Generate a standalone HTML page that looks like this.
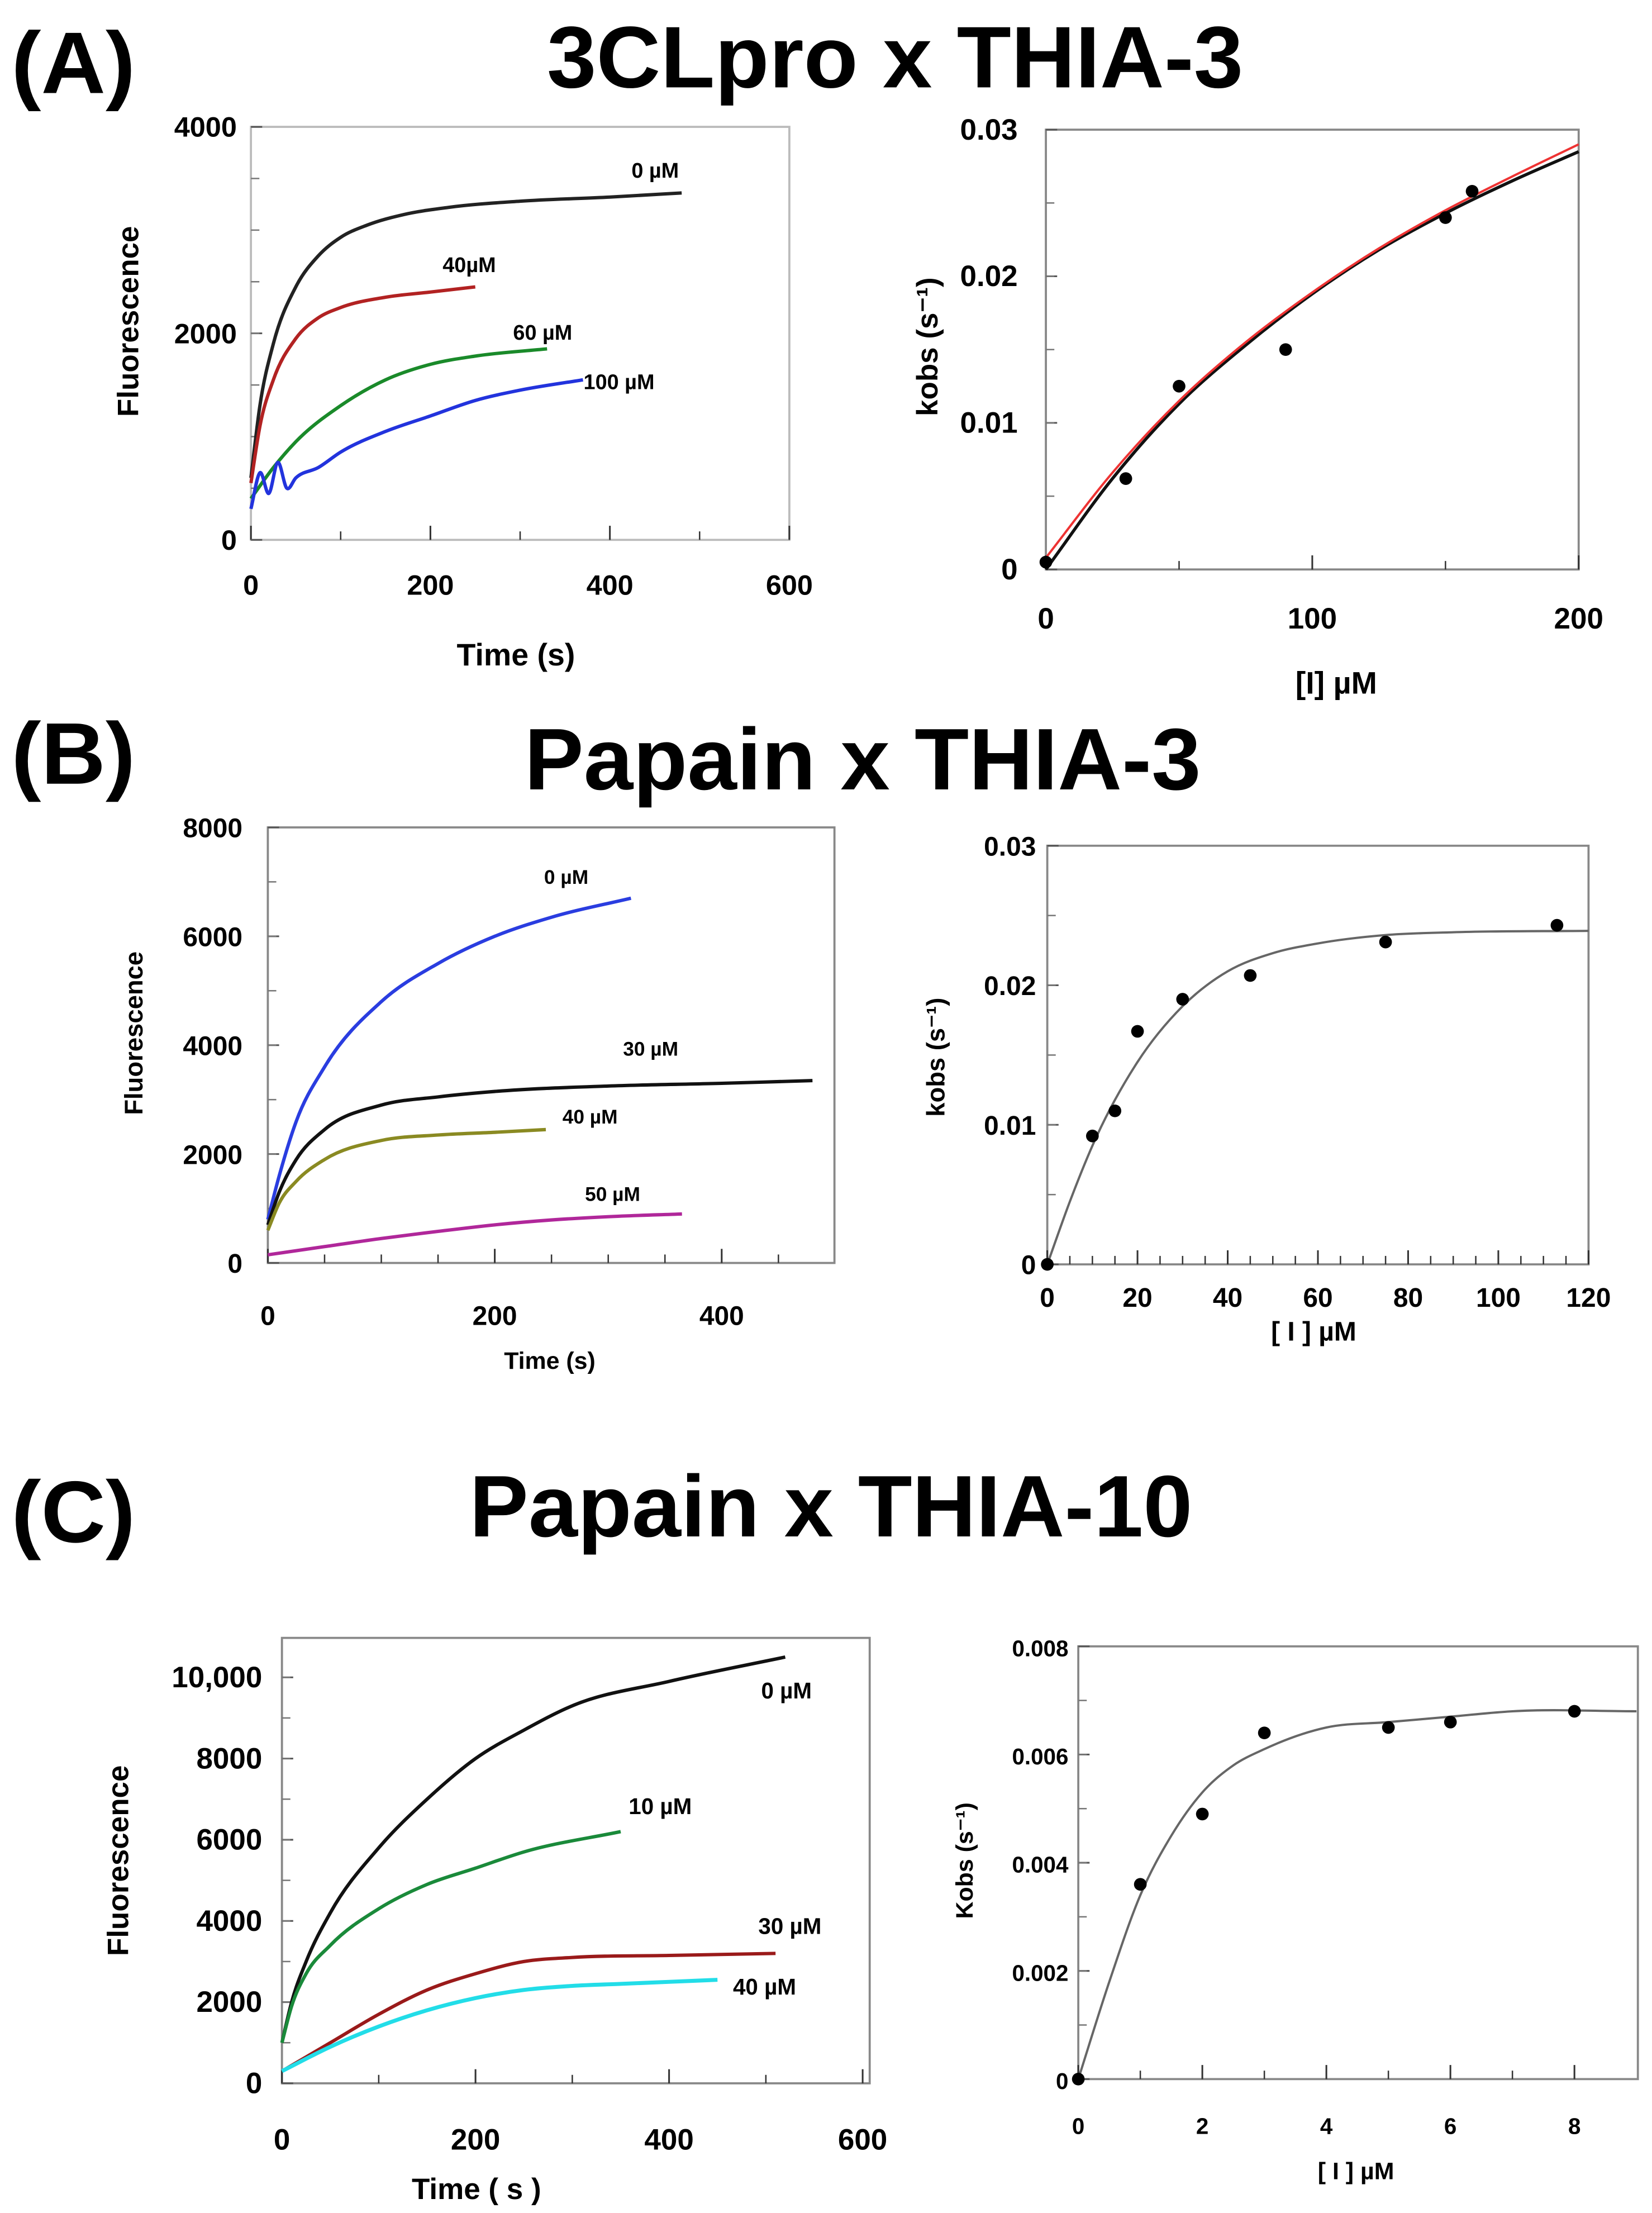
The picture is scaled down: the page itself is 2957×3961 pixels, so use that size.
<!DOCTYPE html>
<html><head><meta charset="utf-8">
<style>
html,body{margin:0;padding:0;background:#fff;}
svg{display:block;}
text{font-family:"Liberation Sans",sans-serif;}
</style></head>
<body>
<svg id="fig" xmlns="http://www.w3.org/2000/svg" width="2957" height="3961" viewBox="0 0 1172 1570">
<rect x="0" y="0" width="1172" height="1570" fill="#fff"/>
<text x="8" y="66" font-size="62" font-weight="bold" textLength="88" lengthAdjust="spacingAndGlyphs">(A)</text>
<text x="388" y="62" font-size="62" font-weight="bold" textLength="494" lengthAdjust="spacingAndGlyphs">3CLpro x THIA-3</text>
<text x="8" y="556" font-size="62" font-weight="bold" textLength="88" lengthAdjust="spacingAndGlyphs">(B)</text>
<text x="372" y="560" font-size="62" font-weight="bold" textLength="480" lengthAdjust="spacingAndGlyphs">Papain x THIA-3</text>
<text x="8" y="1094" font-size="62" font-weight="bold" textLength="88" lengthAdjust="spacingAndGlyphs">(C)</text>
<text x="333" y="1090" font-size="62" font-weight="bold" textLength="513" lengthAdjust="spacingAndGlyphs">Papain x THIA-10</text>
</svg>
<script>
// ---------- Panel A left ----------
const aLeftTicksX=[0,200,400,600];
const aLeftTicksY=[0,2000,4000];
const a0T=[0,10,25,50,75,100,130,170,220,300,400,480];
const a0F=[600,1300,1900,2450,2750,2930,3050,3150,3220,3280,3320,3360];
const a40T=[0,10,25,50,75,100,150,200,250];
const a40F=[550,1100,1550,1950,2150,2250,2350,2400,2450];
const a60T=[0,25,50,100,150,200,250,330];
const a60F=[400,700,950,1300,1550,1700,1780,1850];
const a100T=[0,10,20,30,40,50,75,100,150,200,250,300,370];
const a100F=[300,650,450,750,500,600,700,850,1050,1200,1350,1450,1550];
// ---------- Panel A right ----------
const aRightTicksX=[0,100,200];
const aRightTicksY=[0,0.01,0.02,0.03];
const aPtsX=[0,30,50,90,150,160];
const aPtsY=[0.0005,0.0062,0.0125,0.015,0.024,0.0258];
const aFitX=[0,25,50,75,100,125,150,175,200];
const aFitBlack=[0,0.0062,0.0113,0.0153,0.0188,0.0218,0.0243,0.0265,0.0285];
const aFitRed=[0.0008,0.0066,0.0115,0.0155,0.0189,0.0219,0.0245,0.0268,0.029];
// ---------- Panel B left ----------
const bLeftTicksX=[0,200,400];
const bLeftTicksY=[0,2000,4000,6000,8000];
const b0T=[0,10,25,50,100,150,200,250,320];
const b0F=[800,1600,2600,3600,4800,5500,6000,6350,6700];
const b30T=[0,10,25,50,100,150,200,300,400,480];
const b30F=[700,1300,1900,2450,2900,3050,3150,3250,3300,3350];
const b40T=[0,10,25,50,100,150,200,245];
const b40F=[600,1100,1500,1900,2250,2350,2400,2450];
const b50T=[0,50,100,150,200,250,300,365];
const b50F=[150,300,450,580,700,790,850,900];
// ---------- Panel B right ----------
const bRightTicksX=[0,20,40,60,80,100,120];
const bRightTicksY=[0,0.01,0.02,0.03];
const bPtsX=[0,10,15,20,30,45,75,113];
const bPtsY=[0,0.0092,0.011,0.0167,0.019,0.0207,0.0231,0.0243];
const bFitX=[0,5,10,20,30,40,50,60,75,90,120];
const bFitY=[0,0.0045,0.0085,0.0145,0.0185,0.021,0.0223,0.023,0.0236,0.0238,0.0239];
// ---------- Panel C left ----------
const cLeftTicksX=[0,200,400,600];
const cLeftTicksY=[0,2000,4000,6000,8000,10000];
const cLeftTickLabels=["0","2000","4000","6000","8000","10,000"];
const c0T=[0,10,25,50,100,150,200,250,300,400,520];
const c0F=[1000,2000,3000,4200,5800,7000,8000,8700,9300,9900,10500];
const c10T=[0,10,25,50,100,150,200,250,350];
const c10F=[1000,1900,2700,3400,4300,4900,5300,5700,6200];
const c30T=[0,50,100,150,200,250,300,400,510];
const c30F=[300,1000,1700,2300,2700,3000,3100,3150,3200];
const c40T=[0,50,100,150,200,250,300,350,400,450];
const c40F=[300,900,1400,1800,2100,2300,2400,2450,2500,2550];
// ---------- Panel C right ----------
const cRightTicksX=[0,2,4,6,8];
const cRightTicksY=[0,0.002,0.004,0.006,0.008];
const cPtsX=[0,1,2,3,5,6,8];
const cPtsY=[0,0.0036,0.0049,0.0064,0.0065,0.0066,0.0068];
const cFitX=[0,0.5,1,1.5,2,2.5,3,4,5,6,7,9];
const cFitY=[0,0.0018,0.0034,0.0045,0.0053,0.0058,0.0061,0.0065,0.0066,0.0067,0.0068,0.0068];

const NS="http://www.w3.org/2000/svg";
const svg=document.getElementById('fig');
function el(tag,attrs){const e=document.createElementNS(NS,tag);for(const k in attrs)e.setAttribute(k,attrs[k]);svg.appendChild(e);return e;}
function scale(d0,d1,p0,p1){return v=>p0+(v-d0)/(d1-d0)*(p1-p0);}
// cubic Hermite with tangents from weighted neighbouring slopes (handles uneven spacing)
function smooth(pts){
  const n=pts.length;
  const dx=[],s=[];
  for(let i=0;i<n-1;i++){dx.push(pts[i+1][0]-pts[i][0]);s.push((pts[i+1][1]-pts[i][1])/dx[i]);}
  const m=[];
  for(let i=0;i<n;i++){
    if(i===0)m.push(s[0]);
    else if(i===n-1)m.push(s[n-2]);
    else m.push((s[i-1]*dx[i]+s[i]*dx[i-1])/(dx[i]+dx[i-1]));
  }
  let d="M"+pts[0][0].toFixed(2)+","+pts[0][1].toFixed(2);
  for(let i=0;i<n-1;i++){
    const h=dx[i]/3;
    const c1=[pts[i][0]+h,pts[i][1]+m[i]*h];
    const c2=[pts[i+1][0]-h,pts[i+1][1]-m[i+1]*h];
    d+=" C"+c1.map(v=>v.toFixed(2))+" "+c2.map(v=>v.toFixed(2))+" "+pts[i+1][0].toFixed(2)+","+pts[i+1][1].toFixed(2);
  }
  return d;
}
function frame(name,x0,y0,x1,y1,color){
  const r=el('rect',{x:x0,y:y0,width:x1-x0,height:y1-y0,fill:'none',stroke:color,'stroke-width':1.5});
  
  
}
function label(name,x,y,txt,size,anchor,extra){
  const t=el('text',Object.assign({x:x,y:y,'font-size':size,'font-weight':'bold','text-anchor':anchor||'middle'},extra||{}));
  t.textContent=txt;
  
  
  return t;
}
function curve(name,xs,ys,sx,sy,color,w){
  const p=el('path',{d:smooth(xs.map((v,i)=>[sx(v),sy(ys[i])])),fill:'none',stroke:color,'stroke-width':w||2.4,'stroke-linejoin':'round'});
  
  
}
function dots(name,xs,ys,sx,sy){
  xs.forEach((v,i)=>{
    const c=el('circle',{cx:sx(v),cy:sy(ys[i]),r:4.5,fill:'#000'});
    
    
  });
}
function xTicks(name,ticks,labels,sx,yb,ly,size,minorStep,maxv){
  ticks.forEach((v,i)=>{
    const l=el('line',{x1:sx(v),x2:sx(v),y1:yb,y2:yb-10,stroke:'#333','stroke-width':1.2});
    
    
    label(name+'-label',sx(v),ly,labels?labels[i]:String(v),size);
  });
  if(minorStep){for(let v=minorStep;v<maxv;v+=minorStep){
    const l=el('line',{x1:sx(v),x2:sx(v),y1:yb,y2:yb-6,stroke:'#333','stroke-width':1});
    
    }}
}
function yTicks(name,ticks,labels,sy,xl,lx,size,minorStep,maxv){
  ticks.forEach((v,i)=>{
    const l=el('line',{x1:xl,x2:xl+8,y1:sy(v),y2:sy(v),stroke:'#555','stroke-width':1.2});
    
    
    label(name+'-label',lx,sy(v)+7,labels?labels[i]:String(v),size,'end');
  });
  if(minorStep){for(let v=minorStep;v<maxv;v+=minorStep){
    const l=el('line',{x1:xl,x2:xl+6,y1:sy(v),y2:sy(v),stroke:'#777','stroke-width':1});
    
    }}
}
function yTitle(name,x,y,txt,size){
  return label(name,x,y,txt,size,'middle',{transform:'rotate(-90 '+x+' '+y+')'});
}

// A left
{const sx=scale(0,600,178,560), sy=scale(0,4000,383,90);
frame('a-left',178,90,560,383,'#bbb');
xTicks('a-left-x',aLeftTicksX,null,sx,383,422,20,100,600);
yTicks('a-left-y',aLeftTicksY,null,sy,178,168,20,500,4000);
curve('a-curve-0uM',a0T,a0F,sx,sy,'#222');
curve('a-curve-40uM',a40T,a40F,sx,sy,'#b22222');
curve('a-curve-60uM',a60T,a60F,sx,sy,'#1a8a2a');
curve('a-curve-100uM',a100T,a100F,sx,sy,'#2233dd');
label('a-label-0uM',448,126,'0 µM',15,'start');
label('a-label-40uM',314,193,'40µM',15,'start');
label('a-label-60uM',364,241,'60 µM',15,'start');
label('a-label-100uM',414,276,'100 µM',15,'start');
yTitle('a-left-y-title',98,228,'Fluorescence',21);
label('a-left-x-title',366,472,'Time (s)',22);}
// A right
{const sx=scale(0,200,742,1120), sy=scale(0,0.03,404,92);
frame('a-right',742,92,1120,404,'#888');
xTicks('a-right-x',aRightTicksX,null,sx,404,446,21,50,200);
yTicks('a-right-y',aRightTicksY,["0","0.01","0.02","0.03"],sy,742,722,21,0.005,0.03);
curve('a-fit-black',aFitX,aFitBlack,sx,sy,'#111',2.2);
curve('a-fit-red',aFitX,aFitRed,sx,sy,'#ee3333',1.6);
dots('a-point',aPtsX,aPtsY,sx,sy);
yTitle('a-right-y-title',665,246,'kobs (s⁻¹)',21);
label('a-right-x-title',948,492,'[I] µM',22);}
// B left
{const sx=scale(0,400,190,512), sy=scale(0,8000,896,587);
frame('b-left',190,587,592,896,'#888');
xTicks('b-left-x',bLeftTicksX,null,sx,896,940,19,50,497);
yTicks('b-left-y',bLeftTicksY,null,sy,190,172,19,1000,8000);
curve('b-curve-0uM',b0T,b0F,sx,sy,'#2a3de0');
curve('b-curve-30uM',b30T,b30F,sx,sy,'#111');
curve('b-curve-40uM',b40T,b40F,sx,sy,'#8a8a22');
curve('b-curve-50uM',b50T,b50F,sx,sy,'#b0279a');
label('b-label-0uM',386,627,'0 µM',14,'start');
label('b-label-30uM',442,749,'30 µM',14,'start');
label('b-label-40uM',399,797,'40 µM',14,'start');
label('b-label-50uM',415,852,'50 µM',14,'start');
yTitle('b-left-y-title',101,733,'Fluorescence',18);
label('b-left-x-title',390,971,'Time (s)',17);}
// B right
{const sx=scale(0,120,743,1127), sy=scale(0,0.03,897,600);
frame('b-right',743,600,1127,897,'#888');
xTicks('b-right-x',bRightTicksX,null,sx,897,927,19,5,120);
yTicks('b-right-y',bRightTicksY,["0","0.01","0.02","0.03"],sy,743,735,19,0.005,0.03);
curve('b-fit',bFitX,bFitY,sx,sy,'#666',1.6);
dots('b-point',bPtsX,bPtsY,sx,sy);
yTitle('b-right-y-title',670,750,'kobs (s⁻¹)',18);
label('b-right-x-title',932,951,'[ I ] µM',19);}
// C left
{const sx=scale(0,600,200,612), sy=scale(0,10000,1478,1190);
frame('c-left',200,1162,617,1478,'#888');
xTicks('c-left-x',cLeftTicksX,null,sx,1478,1525,21,100,600);
yTicks('c-left-y',cLeftTicksY,cLeftTickLabels,sy,200,186,21,1000,11000);
curve('c-curve-0uM',c0T,c0F,sx,sy,'#111');
curve('c-curve-10uM',c10T,c10F,sx,sy,'#1a8a3a');
curve('c-curve-30uM',c30T,c30F,sx,sy,'#9a1a1a');
curve('c-curve-40uM',c40T,c40F,sx,sy,'#22dde8',2.8);
label('c-label-0uM',540,1205,'0 µM',16,'start');
label('c-label-10uM',446,1287,'10 µM',16,'start');
label('c-label-30uM',538,1372,'30 µM',16,'start');
label('c-label-40uM',520,1415,'40 µM',16,'start');
yTitle('c-left-y-title',91,1320,'Fluorescence',21);
label('c-left-x-title',338,1560,'Time ( s )',21);}
// C right
{const sx=scale(0,8,765,1117), sy=scale(0,0.008,1475,1168);
frame('c-right',765,1168,1162,1475,'#888');
xTicks('c-right-x',cRightTicksX,null,sx,1475,1514,16,1,9);
yTicks('c-right-y',cRightTicksY,["0","0.002","0.004","0.006","0.008"],sy,765,758,16,0.001,0.008);
curve('c-fit',cFitX,cFitY,sx,sy,'#666',1.6);
dots('c-point',cPtsX,cPtsY,sx,sy);
yTitle('c-right-y-title',690,1320,'Kobs (s⁻¹)',17);
label('c-right-x-title',962,1546,'[ I ] µM',17);}
</script>
</body></html>
